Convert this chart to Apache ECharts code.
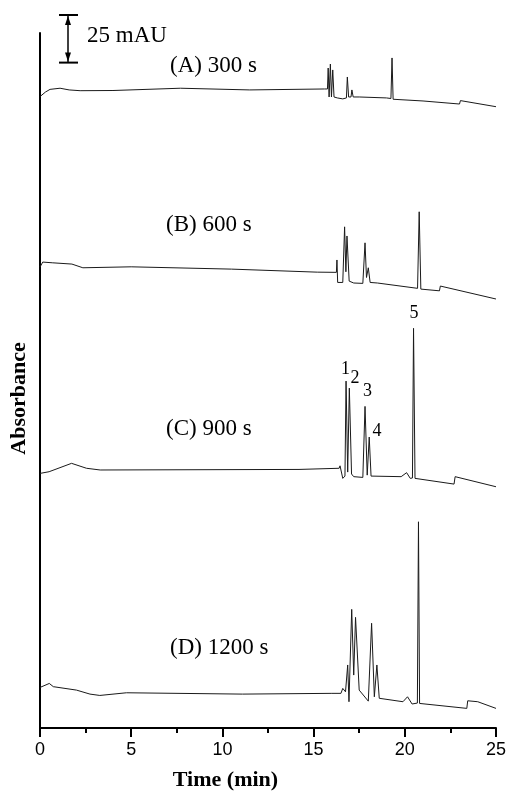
<!DOCTYPE html>
<html>
<head>
<meta charset="utf-8">
<script src="https://cdn.jsdelivr.net/npm/echarts@6/dist/echarts.min.js"></script>
<style>
html,body{margin:0;padding:0;background:#fff;}
#chart{width:509px;height:791px;}
</style>
</head>
<body>
<div id="chart"></div>
<script>
// Time axis (min)
const xTicks = [0, 5, 10, 15, 20, 25];

// Trace A: 300 s
const tA = [0, 0.3, 0.55, 1.1, 1.6, 2.2, 4, 7.7, 11.5, 15.6, 15.76, 15.8, 15.85, 15.92, 15.98, 16.05, 16.12, 16.3, 16.6, 16.8, 16.85, 16.92, 17.05, 17.1, 17.17, 17.5, 19.0, 19.24, 19.3, 19.36, 21, 23.0, 23.05, 25];
const vA = [0.2, 2.6, 4.0, 4.6, 3.7, 3.3, 3.4, 4.6, 3.7, 4.2, 4.2, 15.2, 0, 17.3, 0, 14.2, 0, -0.5, -1, -0.5, 10.5, 0, 0, 3.7, 0, 0, -0.5, -0.8, 20.5, -1.2, -2.1, -3.7, -1.9, -5.1];

// Trace B: 600 s
const tB = [0, 0.15, 0.7, 1.75, 2.35, 5, 10.5, 15.2, 16.25, 16.28, 16.32, 16.6, 16.7, 16.77, 16.83, 16.95, 17.2, 17.7, 17.82, 17.9, 18.0, 18.1, 18.5, 20.7, 20.79, 20.88, 21.9, 21.95, 25];
const vB = [-0.5, 2.1, 1.7, 1.05, -0.9, -0.4, -1.6, -3.2, -3.3, 3.2, -8.6, -8.6, 20.6, -3.0, 15.8, -7.9, -8.9, -9.1, 12.2, -6.0, -0.9, -8.6, -8.9, -11.7, 28.5, -12.1, -13.0, -10.5, -17.3];

// Trace C: 900 s
const tC = [0, 0.5, 1.73, 2.55, 3.3, 14.2, 16.4, 16.45, 16.6, 16.72, 16.78, 16.87, 16.96, 17.08, 17.2, 17.7, 17.82, 17.94, 18.05, 18.15, 19.8, 20.1, 20.3, 20.42, 20.48, 20.56, 22.7, 22.76, 25];
const vC = [-0.2, 0.7, 5.1, 2.5, 1.6, 1.9, 2.5, 3.8, -2.8, -1.6, 48.3, 0.5, 44.6, -0.5, -1.9, -2.3, 35.0, -1.1, 18.9, -1.6, -1.9, 0.2, -2.8, -2.6, 76.0, -2.8, -5.8, -1.9, -7.2];

// Trace D: 1200 s
const tD = [0, 0.51, 0.73, 2.0, 2.74, 3.28, 4.74, 11.1, 16.0, 16.5, 16.6, 16.75, 16.87, 16.94, 17.09, 17.2, 17.3, 17.5, 18.0, 18.18, 18.33, 18.47, 18.6, 19.9, 20.15, 20.4, 20.69, 20.75, 20.81, 23.4, 23.45, 24.0, 25];
const vD = [-0.2, 1.9, 0.2, -1.6, -3.7, -4.4, -3.0, -3.7, -3.3, -3.3, -0.7, -2.5, 11.6, -7.7, 40.8, 6.3, 36.6, -1.6, -7.4, 33.5, -5.1, 11.6, -5.9, -7.7, -5.1, -8.9, -8.4, 86.8, -8.6, -11.2, -7.2, -7.7, -11.2];

// vertical offsets used to stack the traces (mAU)
const offsets = [331.4, 242.6, 133.9, 21.5];
const traceNames = ['(A) 300 s', '(B) 600 s', '(C) 900 s', '(D) 1200 s'];
const peakNames = ['1', '2', '3', '4', '5'];
const scaleBarValue = 25; // mAU
const scaleBarText = '25 mAU';

const traces = [[tA, vA], [tB, vB], [tC, vC], [tD, vD]];

const series = traces.map(function (tr, i) {
  return {
    type: 'line',
    name: traceNames[i],
    data: tr[0].map(function (t, k) { return [t, tr[1][k] + offsets[i]]; }),
    showSymbol: false,
    symbol: 'none',
    smooth: false,
    lineStyle: { color: '#1a1a1a', width: 1 },
    silent: true
  };
});

const chart = echarts.init(document.getElementById('chart'), null, { renderer: 'canvas' });

const option = {
  animation: false,
  backgroundColor: '#fff',
  grid: { left: 40, right: 12, top: 33, bottom: 63 },
  xAxis: {
    type: 'value',
    min: xTicks[0],
    max: xTicks[xTicks.length - 1],
    interval: 5,
    axisLine: { show: true, lineStyle: { color: '#000', width: 2 } },
    axisTick: { show: true, inside: false, length: 9, lineStyle: { color: '#000', width: 2 } },
    minorTick: { show: true, splitNumber: 2, length: 5, lineStyle: { color: '#000', width: 2 } },
    axisLabel: { color: '#000', fontFamily: 'Liberation Sans', fontSize: 18, margin: 13 },
    splitLine: { show: false }
  },
  yAxis: {
    type: 'value',
    min: 0,
    max: 365,
    axisLine: { show: true, lineStyle: { color: '#000', width: 2 } },
    axisTick: { show: false },
    axisLabel: { show: false },
    splitLine: { show: false }
  },
  series: series
};
chart.setOption(option);

// build annotations
const pxPerUnit = chart.convertToPixel({ yAxisIndex: 0 }, 0) - chart.convertToPixel({ yAxisIndex: 0 }, scaleBarValue);
const barX = 68;
const barTop = 15;
const barBot = barTop + pxPerUnit;

function txt(s, x, y, size, bold, align) {
  return {
    type: 'text',
    x: x, y: y,
    style: {
      text: s, x: 0, y: 0,
      font: (bold ? 'bold ' : '') + size + 'px "Liberation Serif", "Times New Roman", serif',
      fill: '#000',
      textAlign: align || 'left',
      textVerticalAlign: 'middle'
    }
  };
}

const labelPos = [[170, 66], [166, 224.5], [166, 428.5], [170, 648]];
const peakPos = [[345.5, 369], [355, 378], [367.5, 391.5], [377, 431], [414, 313.5]];

const graphics = [];
// scale bar
graphics.push({ type: 'line', shape: { x1: barX, y1: barTop, x2: barX, y2: barBot }, style: { stroke: '#000', lineWidth: 1.5 } });
graphics.push({ type: 'line', shape: { x1: barX - 9, y1: barTop, x2: barX + 10, y2: barTop }, style: { stroke: '#000', lineWidth: 2 } });
graphics.push({ type: 'line', shape: { x1: barX - 9, y1: barBot, x2: barX + 10, y2: barBot }, style: { stroke: '#000', lineWidth: 2 } });
graphics.push({ type: 'polygon', shape: { points: [[barX, barTop + 1], [barX - 3, barTop + 10], [barX + 3, barTop + 10]] }, style: { fill: '#000' } });
graphics.push({ type: 'polygon', shape: { points: [[barX, barBot - 1], [barX - 3, barBot - 10], [barX + 3, barBot - 10]] }, style: { fill: '#000' } });
graphics.push(txt(scaleBarText, 87, 36, 23, false));

traceNames.forEach(function (n, i) { graphics.push(txt(n, labelPos[i][0], labelPos[i][1], 23, false)); });
peakNames.forEach(function (n, i) { graphics.push(txt(n, peakPos[i][0], peakPos[i][1], 18, false, 'center')); });

graphics.push(txt('Time (min)', 225.5, 780, 22, true, 'center'));
const absT = txt('Absorbance', 19.5, 398.5, 22, true, 'center');
absT.rotation = Math.PI / 2;
graphics.push(absT);

chart.setOption({ graphic: { elements: graphics } });
</script>
</body>
</html>
